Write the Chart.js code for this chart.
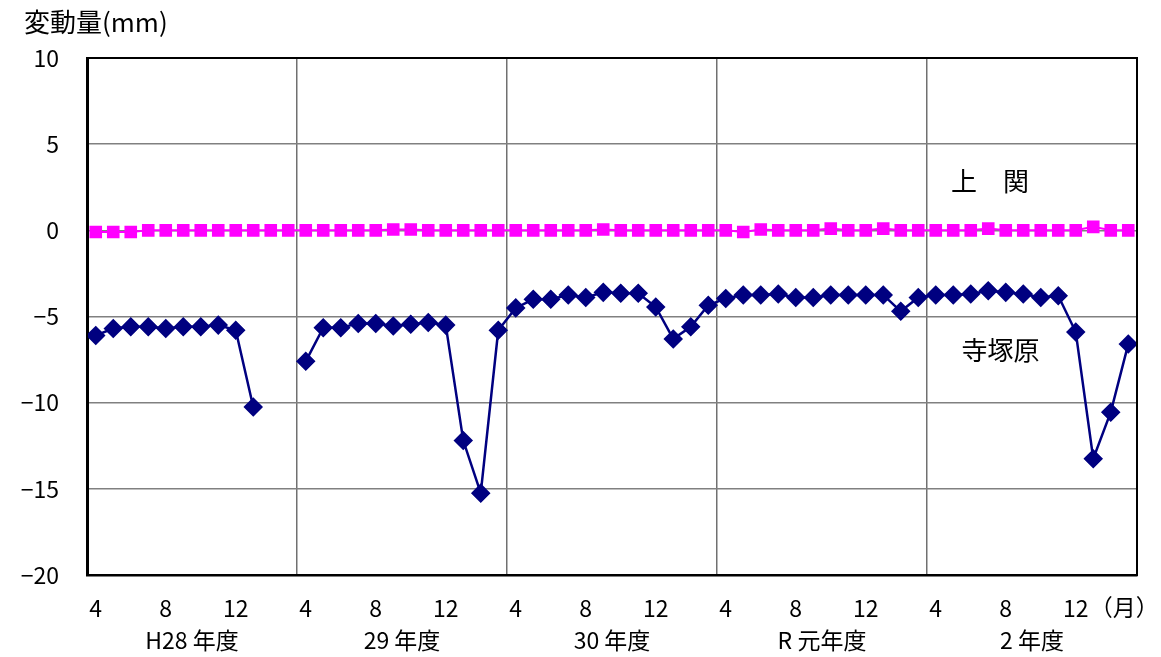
<!DOCTYPE html>
<html>
<head>
<meta charset="utf-8">
<script src="https://cdn.jsdelivr.net/npm/chart.js@4"></script>
<style>
  html, body { margin: 0; padding: 0; background: #fff; }
  #wrap { width: 1161px; height: 657px; }
</style>
</head>
<body>
<div id="wrap"><canvas id="myChart" width="1161" height="657"></canvas></div>
<script>
// data
const fiscalYears = ['H28 年度', '29 年度', '30 年度', 'R 元年度', '2 年度'];
const months = [4, 5, 6, 7, 8, 9, 10, 11, 12, 1, 2, 3];
const shownMonths = [4, 8, 12];
const yTicks = [-20, -15, -10, -5, 0, 5, 10];
const yTitle = '変動量(mm)';
const monthUnit = '（月）';

const kaminoseki = [
  -0.1, -0.1, -0.1, 0, 0, 0, 0, 0, 0, 0, 0, 0,
  0, 0, 0, 0, 0, 0.05, 0.05, 0, 0, 0, 0, 0,
  0, 0, 0, 0, 0, 0.05, 0, 0, 0, 0, 0, 0,
  0, -0.1, 0.05, 0, 0, 0, 0.1, 0, 0, 0.1, 0, 0,
  0, 0, 0, 0.1, 0, 0, 0, 0, 0, 0.2, 0, 0
];
const terazukabaru = [
  -6.1, -5.7, -5.6, -5.6, -5.7, -5.6, -5.6, -5.5, -5.8, -10.25, null, null,
  -7.6, -5.65, -5.65, -5.4, -5.4, -5.55, -5.45, -5.35, -5.5, -12.2, -15.25, -5.8,
  -4.5, -4.0, -4.0, -3.75, -3.9, -3.6, -3.65, -3.65, -4.45, -6.3, -5.6, -4.35,
  -3.95, -3.75, -3.75, -3.7, -3.9, -3.9, -3.75, -3.75, -3.75, -3.75, -4.7, -3.9,
  -3.75, -3.75, -3.7, -3.5, -3.6, -3.7, -3.9, -3.8, -5.9, -13.25, -10.55, -6.6
];
const seriesNames = ['上関', '寺塚原'];
const seriesTags = [
  { text: '上　関', x: 51.1, y: 2.85 },
  { text: '寺塚原', x: 51.7, y: -6.95 }
];

const labels = [];
fiscalYears.forEach(() => months.forEach(m => labels.push(String(m))));

const FONT = '"Noto Sans CJK JP", "Noto Sans", sans-serif';

// texts drawn outside the axes
const overlay = {
  id: 'overlay',
  afterDraw(chart) {
    const { ctx, chartArea: a, scales: { x, y } } = chart;
    ctx.save();
    ctx.strokeStyle = '#000';
    ctx.lineWidth = 2;
    ctx.strokeRect(a.left, a.top, a.right - a.left, a.bottom - a.top);

    ctx.fillStyle = '#000';
    ctx.font = '26px ' + FONT;
    ctx.textBaseline = 'middle';
    ctx.textAlign = 'left';
    ctx.fillText(yTitle, 24, 22);

    ctx.font = '23px ' + FONT;
    ctx.textAlign = 'center';
    fiscalYears.forEach((t, k) => {
      ctx.fillText(t, x.getPixelForValue(k * 12 + 5.5), 640);
    });
    ctx.textAlign = 'left';
    ctx.fillText(monthUnit, x.getPixelForValue(labels.length - 4) + 14, 607);

    ctx.font = '26px ' + FONT;
    ctx.textAlign = 'center';
    seriesTags.forEach(s => {
      ctx.fillText(s.text, x.getPixelForValue(s.x), y.getPixelForValue(s.y));
    });
    ctx.restore();
  }
};

const data = {
  labels,
  datasets: [{
    label: seriesNames[0],
    data: kaminoseki,
    borderColor: '#ff00ff',
    backgroundColor: '#ff00ff',
    borderWidth: 2,
    pointStyle: 'rect',
    pointRadius: 7.5,
    pointHoverRadius: 7.5
  },
  {
    label: seriesNames[1],
    data: terazukabaru,
    borderColor: '#000080',
    backgroundColor: '#000080',
    borderWidth: 2.5,
    pointStyle: 'rectRot',
    pointRadius: 8,
    pointHoverRadius: 8,
    spanGaps: false
  }]
};

const config = {
  type: 'line',
  data,
  options: {
    responsive: false,
    animation: false,
    layout: { padding: { top: 58, right: 24, left: 0, bottom: 0 } },
    plugins: { legend: { display: false }, tooltip: { enabled: false } },
    scales: {
      x: {
        type: 'category',
        offset: true,
        afterFit(s) { s.height = 82; },
        grid: {
          offset: true,
          drawTicks: false,
          lineWidth: 1.5,
          color: c => (c.index % 12 === 0 ? '#707070' : 'rgba(0,0,0,0)')
        },
        border: { color: '#000', width: 2.5 },
        ticks: {
          autoSkip: false,
          maxRotation: 0,
          padding: 19,
          color: '#000',
          font: { family: FONT, size: 23 },
          callback(val, idx) {
            const m = Number(this.getLabelForValue(val));
            return shownMonths.includes(m) ? String(m) : '';
          }
        }
      },
      y: {
        min: yTicks[0],
        max: yTicks[yTicks.length - 1],
        afterFit(s) { s.width = 87; },
        afterBuildTicks(s) { s.ticks = yTicks.map(v => ({ value: v })); },
        grid: { drawTicks: false, color: '#808080', lineWidth: 1.5 },
        border: { color: '#000', width: 3 },
        ticks: {
          padding: 28,
          color: '#000',
          font: { family: FONT, size: 23 },
          callback: v => String(v).replace('-', '−')
        }
      }
    }
  },
  plugins: [overlay]
};

const myChart = new Chart(document.getElementById('myChart'), config);
</script>
</body>
</html>
